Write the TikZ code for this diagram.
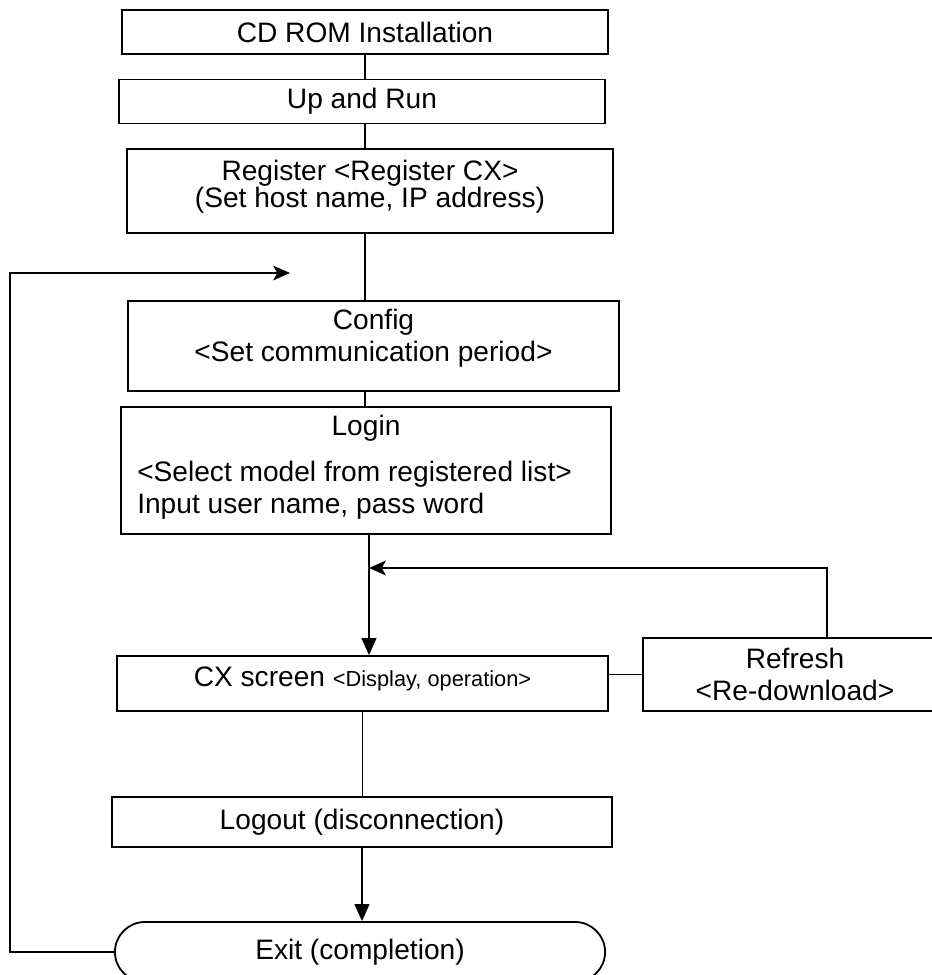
\documentclass[tikz,border=0pt]{standalone}
\usepackage{fontspec}
\setmainfont{Liberation Sans}
\usetikzlibrary{arrows.meta,positioning,shapes.misc}

\tikzset{
  box/.style={draw, line width=1.3pt, inner sep=0pt},
  txt/.style={inner sep=0pt, font=\fontsize{20}{22}\selectfont},
  link/.style={line width=1.1pt},
  flow/.style={line width=1.1pt, -{Triangle[length=12pt,width=10.5pt]}},
  back/.style={line width=1.1pt, -{Stealth[length=12pt,width=10.5pt,inset=3pt]}}
}

\begin{document}
\begin{tikzpicture}[x=0.025cm,y=-0.025cm]
  \useasboundingbox (0,0) rectangle (932,975);
  \clip (0,0) rectangle (932,975);

  % boxes down the main line
  \node[box, txt, minimum width=12.15cm, minimum height=1.1cm] (cdrom) at (365,32) {CD ROM Installation};
  \node[box, txt, minimum width=12.15cm, minimum height=1.1cm] (up) at (362,101.5) {Up and Run};
  \node[box, minimum width=12.15cm, minimum height=2.1cm] (register) at (370,191) {};
  \node[txt, align=center, font=\fontsize{20}{19.5}\selectfont] (registertxt) at (370,187) {Register {<}Register CX{>}\\(Set host name, IP address)};

  \node[box, minimum width=12.275cm, minimum height=2.25cm] (config) at (373.5,346) {};
  \node[txt, align=center, font=\fontsize{20}{22.7}\selectfont] (configtxt) at (373.5,338) {Config\\{<}Set communication period{>}};

  \node[box, minimum width=12.26cm, minimum height=3.175cm] (login) at (366,470.5) {};
  \node[txt] (logintitle) at (366,428) {Login};
  \node[txt, align=left, anchor=west, font=\fontsize{20}{22.7}\selectfont] (logintxt) at (137,490) {{<}Select model from registered list{>}\\Input user name, pass word};

  \node[box, minimum width=12.275cm, minimum height=1.375cm] (cx) at (362.5,683.5) {};
  \node[txt] (cxtxt) at (362.5,679) {CX screen {\fontsize{15.5}{17}\selectfont{<}Display, operation{>}}};

  \node[box, txt, align=center, font=\fontsize{20}{22.7}\selectfont, minimum width=7.6cm, minimum height=1.825cm] (refresh) at (795,674.5) {Refresh\\{<}Re-download{>}};

  \node[box, txt, minimum width=12.5cm, minimum height=1.25cm] (logout) at (362,822) {Logout (disconnection)};

  \node[draw, line width=1.3pt, rounded rectangle, txt, minimum width=12.25cm, minimum height=1.5cm] (exit) at (360,952) {Exit (completion)};

  % connectors
  \coordinate (loopcorner) at (10,273);
  \coordinate (loopend) at (290,273);
  \coordinate (refreshturn) at (827,568);

  \draw[link] (cdrom.south) -- (cdrom.south |- up.north);
  \draw[link] (cdrom.south |- up.south) -- (cdrom.south |- register.north);
  \draw[link] (cdrom.south |- register.south) -- (cdrom.south |- config.north);
  \draw[link] (cdrom.south |- config.south) -- (cdrom.south |- login.north);
  \draw[flow] (login.south) ++(3,0) coordinate (loginout) -- (loginout |- cx.north);
  \draw[back] (refreshturn |- refresh.north) -- (refreshturn) -- (loginout |- refreshturn);
  \draw[link] (cx.east |- refresh.west) -- (refresh.west);
  \draw[link] (cx.south) -- (cx.south |- logout.north);
  \draw[flow] (logout.south) -- (logout.south |- exit.north);
  \draw[back] (exit.west) -| (loopcorner) -- (loopend);

\end{tikzpicture}
\end{document}
